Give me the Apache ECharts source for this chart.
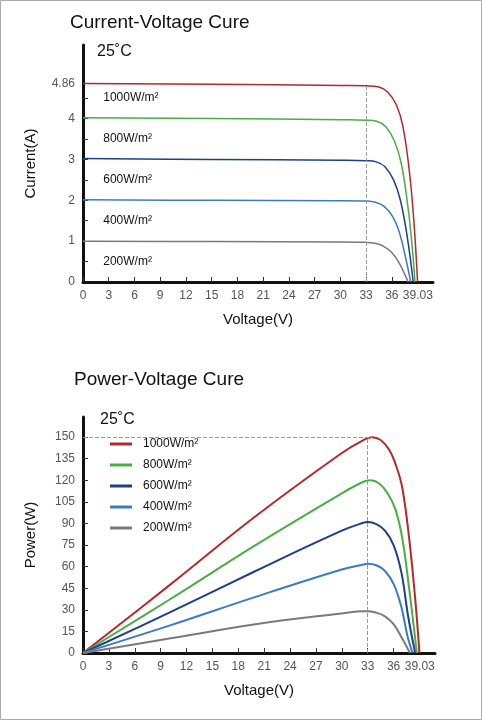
<!DOCTYPE html>
<html>
<head>
<meta charset="utf-8">
<script src="https://cdn.jsdelivr.net/npm/echarts@6/dist/echarts.min.js"></script>
<style>html,body{margin:0;padding:0;background:#fff}#chart{width:482px;height:720px}</style>
</head>
<body>
<div id="chart"></div>
<script>
// irradiance levels
const levels = ['1000W/m²', '800W/m²', '600W/m²', '400W/m²', '200W/m²'];
const colors = ['#b5282b', '#4aad45', '#1d3f8c', '#3a7cc4', '#7a7a7a'];

// voltage axis labels
const voltTicks = [0, 3, 6, 9, 12, 15, 18, 21, 24, 27, 30, 33, 36, 39.03];
const currentTicks = [0, 1, 2, 3, 4, 4.86];
const powerTicks = [0, 15, 30, 45, 60, 75, 90, 105, 120, 135, 150];

// I-V curves [V, A]
const iv1000 = [[0,4.86],[15,4.84],[30,4.81],[33,4.8],[34.5,4.77],[35.5,4.65],[36.5,4.35],[37.3,3.8],[38.1,2.6],[38.6,1.4],[39.0,0]];
const iv800 = [[0,4.02],[15,4.0],[30,3.97],[33,3.96],[34.3,3.93],[35.3,3.8],[36.3,3.45],[37.1,2.9],[37.9,1.8],[38.4,0.8],[38.7,0]];
const iv600 = [[0,3.02],[15,3.0],[30,2.98],[33,2.97],[34.2,2.94],[35.2,2.82],[36.2,2.5],[37,2.0],[37.8,1.1],[38.5,0]];
const iv400 = [[0,2.01],[15,2.0],[30,1.99],[33,1.98],[34.1,1.95],[35.1,1.85],[36.1,1.6],[36.9,1.2],[37.6,0.6],[38.2,0]];
const iv200 = [[0,1.0],[15,0.99],[30,0.98],[33,0.97],[34,0.95],[35,0.88],[36,0.72],[36.9,0.45],[37.9,0]];

// P-V curves [V, W]
const pv1000 = [[0,0],[10,47],[20,95],[30,139],[32.5,148],[33.5,150],[34.5,148],[35.5,141],[36.3,130],[37,115],[37.8,80],[38.5,38],[39,0]];
const pv800 = [[0,0],[10,37],[20,75],[30,111],[32.5,119],[33.3,120],[34.3,118],[35.3,111],[36.2,100],[37,80],[37.8,45],[38.7,0]];
const pv600 = [[0,0],[10,28],[20,57],[30,85],[32.5,90.5],[33,91],[34,89.5],[35,85],[36,75],[36.9,56],[37.7,25],[38.5,0]];
const pv400 = [[0,0],[10,19],[20,39],[30,58],[32.5,61.5],[33,62],[34,61],[35,57],[36,48],[36.9,32],[37.6,12],[38.2,0]];
const pv200 = [[0,0],[10,10],[20,20],[30,27.5],[32.5,29],[33,29],[34,28],[35,25.5],[36,20],[37,10],[37.9,0]];

const ivData = [iv1000, iv800, iv600, iv400, iv200];
const pvData = [pv1000, pv800, pv600, pv400, pv200];
const labelY = [4.5, 3.5, 2.5, 1.5, 0.5];

const axisLine = {lineStyle: {color: '#111', width: 3}};
const labelStyle = {color: '#555', fontSize: 12, fontFamily: 'Arial'};

function xAxis(gridIndex) {
  return {
    type: 'value', gridIndex: gridIndex, min: 0, max: 40.8,
    axisLine: axisLine, splitLine: {show: false},
    axisTick: {inside: true, length: 5, customValues: voltTicks.slice(0, 13), lineStyle: {color: '#333'}},
    axisLabel: Object.assign({customValues: voltTicks, margin: 8}, labelStyle),
    name: 'Voltage(V)', nameLocation: 'middle', nameGap: 30,
    nameTextStyle: {color: '#111', fontSize: 15, fontFamily: 'Arial'}
  };
}

const chart = echarts.init(document.getElementById('chart'));
const series = [];
levels.forEach((name, i) => {
  series.push({
    type: 'line', name: name, xAxisIndex: 0, yAxisIndex: 0, data: ivData[i],
    smooth: 0.4, showSymbol: false, color: colors[i], lineStyle: {color: colors[i], width: 1.5},
    markPoint: {
      symbol: 'circle', symbolSize: 1, silent: true, itemStyle: {color: 'rgba(0,0,0,0)'},
      label: {show: true, formatter: name, position: 'right', distance: 0, color: '#111', fontSize: 12, fontFamily: 'Arial'},
      data: [{coord: [2.3, labelY[i]]}]
    },
    markLine: i === 0 ? {
      symbol: 'none', silent: true, label: {show: false},
      lineStyle: {type: 'dashed', color: '#999', width: 1},
      data: [[{coord: [33, 0]}, {coord: [33, 4.8]}]]
    } : undefined
  });
  series.push({
    type: 'line', name: name, xAxisIndex: 1, yAxisIndex: 1, data: pvData[i],
    smooth: 0.4, showSymbol: false, color: colors[i], lineStyle: {color: colors[i], width: 2},
    itemStyle: {color: colors[i]},
    markLine: i === 0 ? {
      symbol: 'none', silent: true, label: {show: false},
      lineStyle: {type: 'dashed', color: '#999', width: 1},
      data: [[{coord: [33, 0]}, {coord: [33, 150]}], [{coord: [0, 150]}, {coord: [33.5, 150]}]]
    } : undefined
  });
});

chart.setOption({
  animation: false,
  graphic: [
    {type: 'rect', shape: {x: 0.5, y: 0.5, width: 481, height: 719}, style: {fill: 'none', stroke: '#aaa', lineWidth: 1}},
    {type: 'text', left: 70, top: 13, style: {text: 'Current-Voltage Cure', fontSize: 19, fill: '#111', fontFamily: 'Arial'}},
    {type: 'text', left: 97, top: 44, style: {text: '25˚C', fontSize: 16, fill: '#111', fontFamily: 'Arial'}},
    {type: 'text', left: 74, top: 370, style: {text: 'Power-Voltage Cure', fontSize: 19, fill: '#111', fontFamily: 'Arial'}},
    {type: 'text', left: 100, top: 412, style: {text: '25˚C', fontSize: 16, fill: '#111', fontFamily: 'Arial'}}
  ],
  legend: {
    data: levels, orient: 'vertical', left: 105, top: 433, itemGap: 9,
    icon: 'rect', itemWidth: 22, itemHeight: 3,
    textStyle: {color: '#111', fontSize: 12, fontFamily: 'Arial', padding: [0, 0, 0, 6]}
  },
  grid: [
    {left: 83, top: 45, width: 350, height: 237},
    {left: 83, top: 417, width: 352, height: 236}
  ],
  xAxis: [xAxis(0), xAxis(1)],
  yAxis: [
    {
      type: 'value', gridIndex: 0, min: 0, max: 5.8,
      axisLine: axisLine, splitLine: {show: false},
      axisTick: {inside: true, length: 5, customValues: [0.5, 1, 1.5, 2, 2.5, 3, 3.5, 4, 4.5, 4.86], lineStyle: {color: '#333'}},
      axisLabel: Object.assign({customValues: currentTicks, margin: 8}, labelStyle),
      name: 'Current(A)', nameLocation: 'middle', nameGap: 45, nameRotate: 90,
      nameTextStyle: {color: '#111', fontSize: 15, fontFamily: 'Arial'}
    },
    {
      type: 'value', gridIndex: 1, min: 0, max: 164,
      axisLine: axisLine, splitLine: {show: false},
      axisTick: {inside: true, length: 5, customValues: powerTicks, lineStyle: {color: '#333'}},
      axisLabel: Object.assign({customValues: powerTicks, margin: 8}, labelStyle),
      name: 'Power(W)', nameLocation: 'middle', nameGap: 45, nameRotate: 90,
      nameTextStyle: {color: '#111', fontSize: 15, fontFamily: 'Arial'}
    }
  ],
  series: series
});
</script>
</body>
</html>
